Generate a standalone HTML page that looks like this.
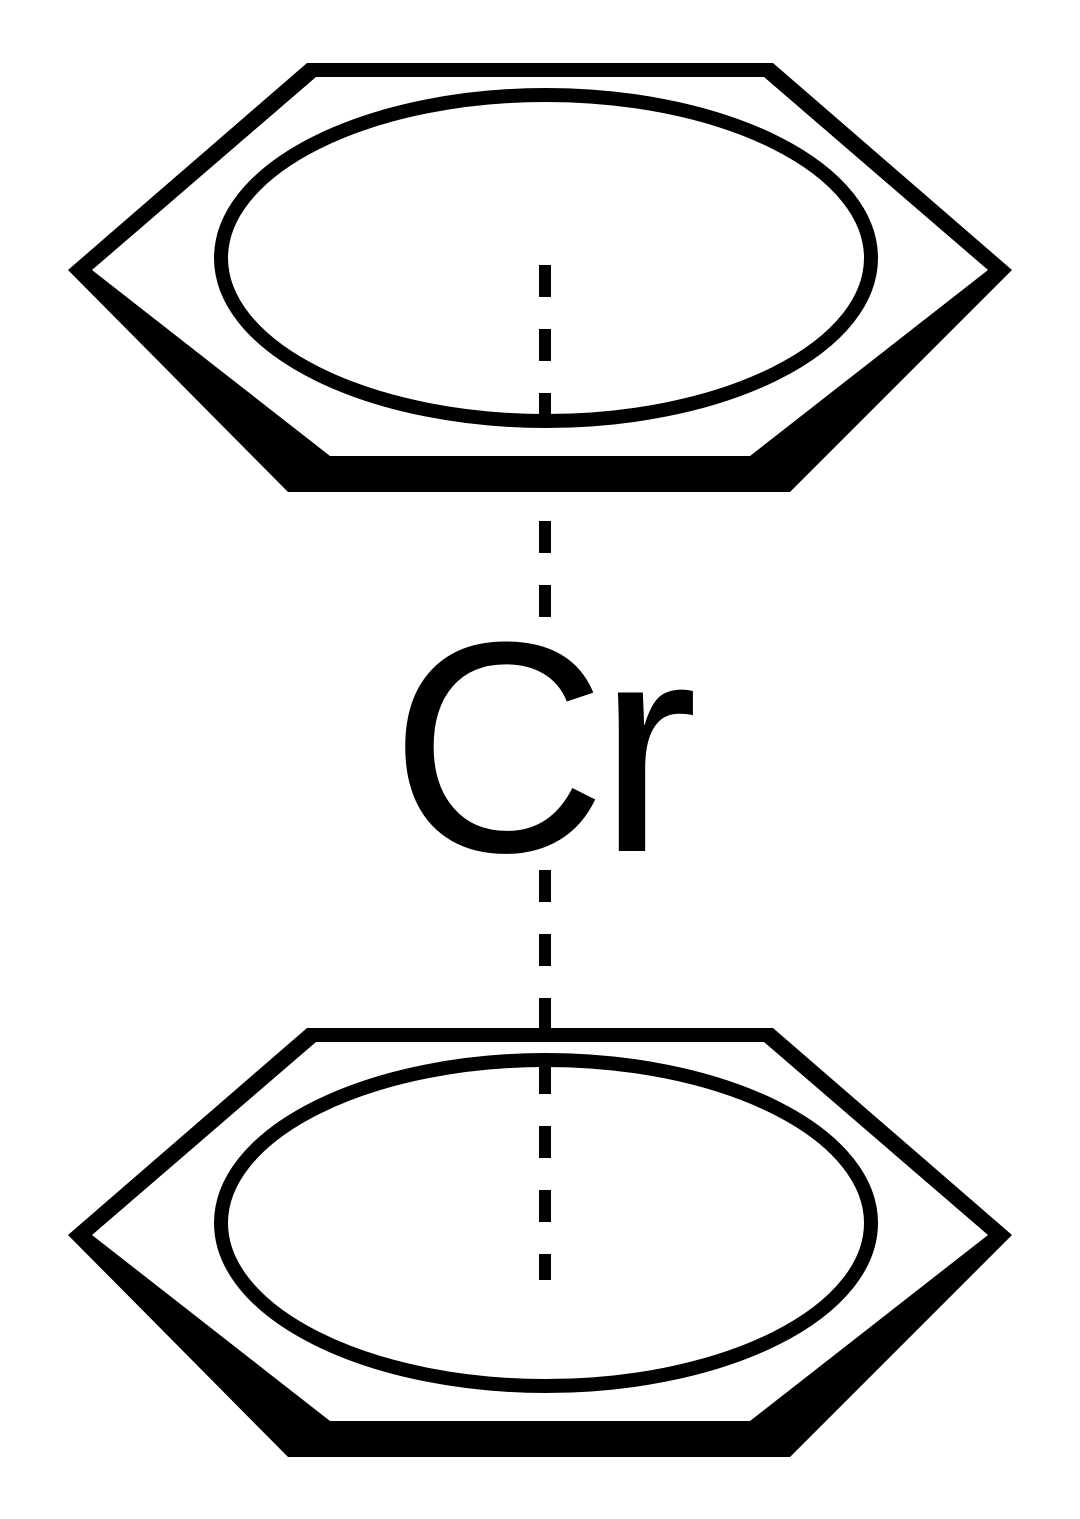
<!DOCTYPE html>
<html><head><meta charset="utf-8"><style>html,body{margin:0;padding:0;background:#fff}svg{display:block}</style></head>
<body>
<svg width="1080" height="1519" viewBox="0 0 1080 1519" xmlns="http://www.w3.org/2000/svg">
<g id="ring">
<path fill-rule="evenodd" fill="#000" d="M307,63 L773,63 L1012,270 L790,492 L288,492 L68,270 Z M316,77 L764,77 L988,270 L750,456 L330,456 L92,270 Z"/>
<ellipse cx="546" cy="258" rx="325" ry="163" fill="none" stroke="#000" stroke-width="14"/>
</g>
<use href="#ring" transform="translate(0,965)"/>
<g stroke="#000" stroke-width="12" stroke-dasharray="32 32">
<line x1="545" y1="265" x2="545" y2="425"/>
<line x1="545" y1="521" x2="545" y2="617"/>
<line x1="545" y1="870" x2="545" y2="1280"/>
</g>
<text y="851" font-family="Liberation Sans, sans-serif" font-size="300" fill="#000"><tspan x="390">C</tspan><tspan x="598">r</tspan></text>
</svg>
</body></html>
